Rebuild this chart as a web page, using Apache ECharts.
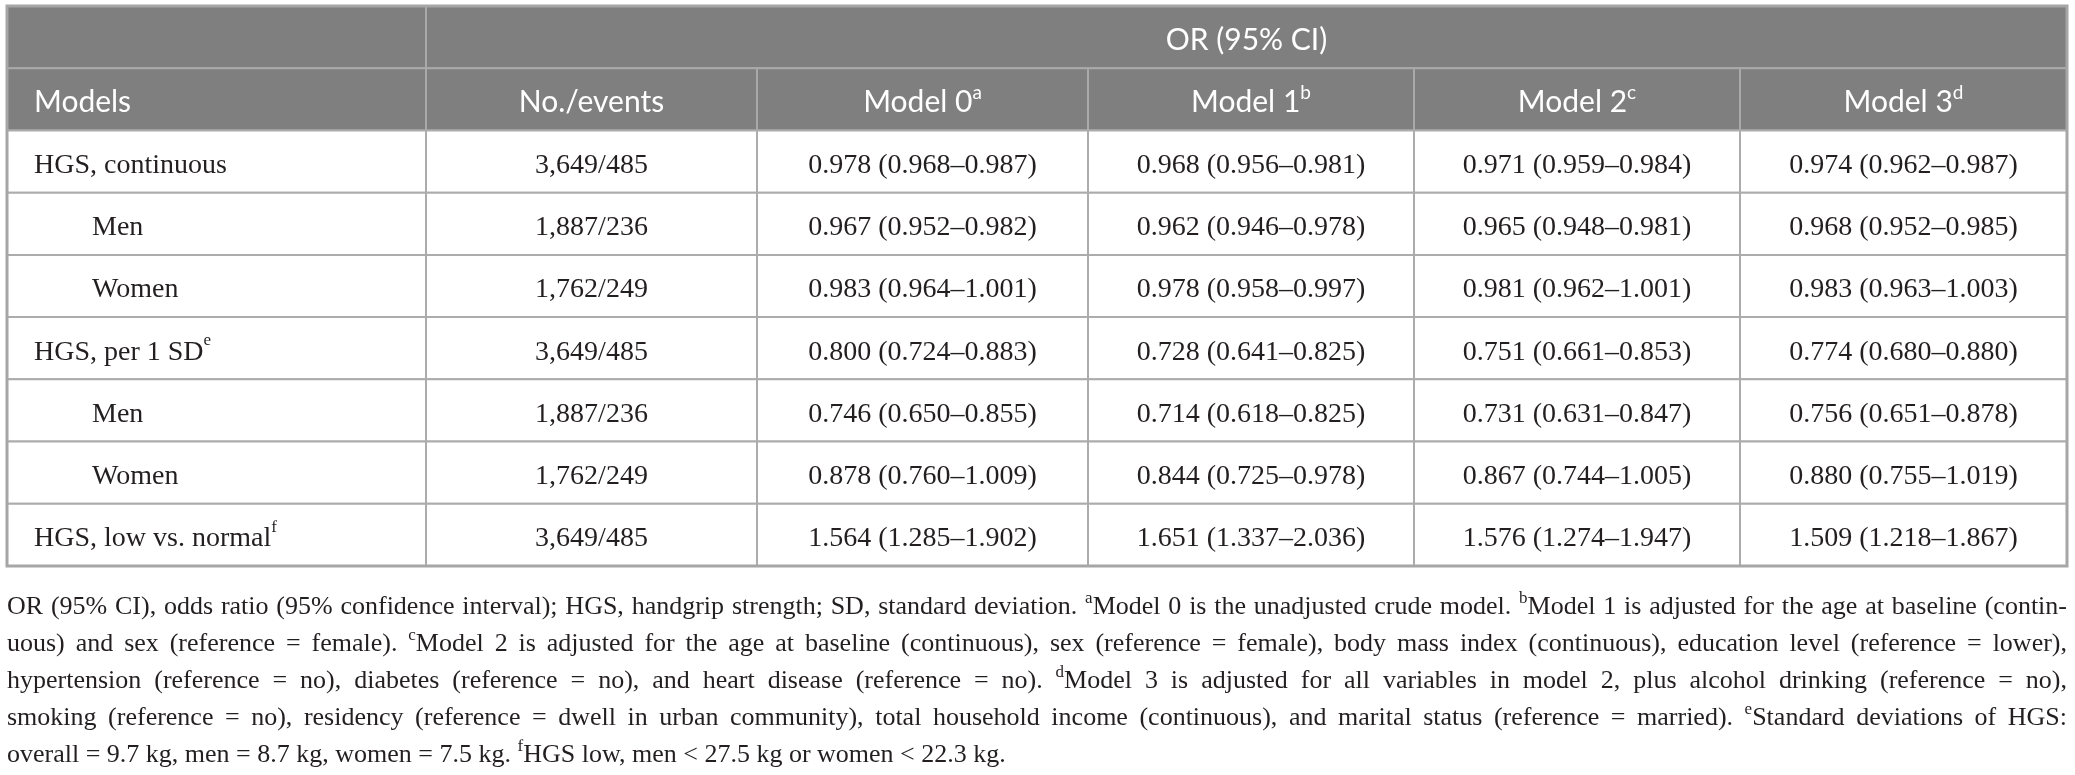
<!DOCTYPE html>
<html><head><meta charset="utf-8">
<script src="https://cdn.jsdelivr.net/npm/echarts@6/dist/echarts.min.js"></script>
<style>html,body{margin:0;padding:0;background:#fff}#c{width:2075px;height:775px}</style>
</head><body><div id="c"></div>
<script>
// ---------- DATA ----------
const groupHeader = 'OR (95% CI)';
const columnTitles = ['Models', 'No./events', 'Model 0', 'Model 1', 'Model 2', 'Model 3'];
const columnSups = ['', '', 'a', 'b', 'c', 'd'];
const rowLabels = ['HGS, continuous', 'Men', 'Women', 'HGS, per 1 SD', 'Men', 'Women', 'HGS, low vs. normal'];
const rowSups = ['', '', '', 'e', '', '', 'f'];
const rowIndented = [false, true, true, false, true, true, false];
const noEvents = ['3,649/485', '1,887/236', '1,762/249', '3,649/485', '1,887/236', '1,762/249', '3,649/485'];
// [OR, lower, upper]
const model0 = [[0.978,0.968,0.987],[0.967,0.952,0.982],[0.983,0.964,1.001],[0.800,0.724,0.883],[0.746,0.650,0.855],[0.878,0.760,1.009],[1.564,1.285,1.902]];
const model1 = [[0.968,0.956,0.981],[0.962,0.946,0.978],[0.978,0.958,0.997],[0.728,0.641,0.825],[0.714,0.618,0.825],[0.844,0.725,0.978],[1.651,1.337,2.036]];
const model2 = [[0.971,0.959,0.984],[0.965,0.948,0.981],[0.981,0.962,1.001],[0.751,0.661,0.853],[0.731,0.631,0.847],[0.867,0.744,1.005],[1.576,1.274,1.947]];
const model3 = [[0.974,0.962,0.987],[0.968,0.952,0.985],[0.983,0.963,1.003],[0.774,0.680,0.880],[0.756,0.651,0.878],[0.880,0.755,1.019],[1.509,1.218,1.867]];
const footnoteLines = [
  'OR (95% CI), odds ratio (95% confidence interval); HGS, handgrip strength; SD, standard deviation. ^aModel 0 is the unadjusted crude model. ^bModel 1 is adjusted for the age at baseline (contin-',
  'uous) and sex (reference = female). ^cModel 2 is adjusted for the age at baseline (continuous), sex (reference = female), body mass index (continuous), education level (reference = lower),',
  'hypertension (reference = no), diabetes (reference = no), and heart disease (reference = no). ^dModel 3 is adjusted for all variables in model 2, plus alcohol drinking (reference = no),',
  'smoking (reference = no), residency (reference = dwell in urban community), total household income (continuous), and marital status (reference = married). ^eStandard deviations of HGS:',
  'overall = 9.7 kg, men = 8.7 kg, women = 7.5 kg. ^fHGS low, men < 27.5 kg or women < 22.3 kg.'
];
const footnoteJustified = [true, true, true, true, false];

// ---------- LAYOUT / STYLE ----------
const colWidths = [419, 331, 331, 326, 326, 327];
const SERIF = '"Liberation Serif", "Times New Roman", serif';
const SANS = 'Lato, "Noto Sans", sans-serif';
const HEAD_BG = '#7f7f7f', HEAD_LINE = '#a9a9a9', BODY_LINE = '#acacac';
const TEXT = '#231f20';

const colEdges = [0];
colWidths.forEach(w => colEdges.push(colEdges[colEdges.length - 1] + w));
const totalW = colEdges[colEdges.length - 1];

const fmtCI = t => t[0].toFixed(3) + ' (' + t[1].toFixed(3) + '–' + t[2].toFixed(3) + ')';
const models = [model0, model1, model2, model3];

// Build cells: value = [x0, x1, r0, r1]
const cells = [];
cells.push({ value: [colEdges[0], colEdges[1], 0, 1], text: '', head: true });
cells.push({ value: [colEdges[1], colEdges[6], 0, 1], text: groupHeader, head: true });
columnTitles.forEach((t, i) => {
  cells.push({ value: [colEdges[i], colEdges[i + 1], 1, 2], text: t, sup: columnSups[i], head: true, left: i === 0 });
});
rowLabels.forEach((lab, r) => {
  const rr = r + 2;
  cells.push({ value: [colEdges[0], colEdges[1], rr, rr + 1], text: lab, sup: rowSups[r], left: true, indent: rowIndented[r] });
  cells.push({ value: [colEdges[1], colEdges[2], rr, rr + 1], text: noEvents[r] });
  models.forEach((m, k) => {
    cells.push({ value: [colEdges[k + 2], colEdges[k + 3], rr, rr + 1], text: fmtCI(m[r]) });
  });
});

function renderCell(params, api) {
  const c = cells[params.dataIndex];
  const p0 = api.coord([api.value(0), api.value(2)]);
  const p1 = api.coord([api.value(1), api.value(3)]);
  const x = p0[0], y = p0[1], w = p1[0] - p0[0], h = p1[1] - p0[1];
  const fs = c.head ? 30 : 28;
  const fam = c.head ? SANS : SERIF;
  const col = c.head ? '#ffffff' : TEXT;
  let txt = '{n|' + c.text + '}';
  if (c.sup) txt += '{s|' + c.sup + '}';
  let tx = x + w / 2, align = 'center';
  if (c.left) { tx = x + 27 + (c.indent ? 58 : 0); align = 'left'; }
  return {
    type: 'group',
    children: [
      { type: 'rect', shape: { x: x, y: y, width: w, height: h },
        style: { fill: c.head ? HEAD_BG : '#ffffff', stroke: c.head ? HEAD_LINE : BODY_LINE, lineWidth: 2 } },
      { type: 'text', z2: 10,
        style: { text: txt, x: tx, y: y + h / 2 + 1, align: align, verticalAlign: 'middle',
          rich: {
            n: { fontSize: fs, fontFamily: fam, fill: col, lineHeight: 34, verticalAlign: 'bottom' },
            s: { fontSize: Math.round(fs * 0.62), fontFamily: fam, fill: col, lineHeight: 24, verticalAlign: 'top' }
          } } }
    ]
  };
}

// ---------- FOOTNOTE (justified) ----------
const FN_FS = 26, FN_SUP = 17;
const FN_LEFT = 7, FN_RIGHT = 2067;
const FN_Y0 = 605, FN_STEP = 37;
const cv = document.createElement('canvas').getContext('2d');
function measure(t, fs) { cv.font = fs + 'px ' + SERIF; return cv.measureText(t).width; }
function parts(word) {
  const out = []; const re = /\^([a-z])/g; let last = 0, m;
  while ((m = re.exec(word))) {
    if (m.index > last) out.push({ t: word.slice(last, m.index), s: false });
    out.push({ t: m[1], s: true }); last = re.lastIndex;
  }
  if (last < word.length) out.push({ t: word.slice(last), s: false });
  return out;
}
const fnRich = {
  n: { fontSize: FN_FS, fontFamily: SERIF, fill: TEXT, lineHeight: 30, verticalAlign: 'bottom' },
  s: { fontSize: FN_SUP, fontFamily: SERIF, fill: TEXT, lineHeight: 20, verticalAlign: 'top' }
};
const graphics = [];
footnoteLines.forEach((line, li) => {
  const words = line.split(' ').map(w => {
    const ps = parts(w);
    const width = ps.reduce((a, p) => a + measure(p.t, p.s ? FN_SUP : FN_FS), 0);
    const rich = ps.map(p => '{' + (p.s ? 's' : 'n') + '|' + p.t + '}').join('');
    return { width, rich };
  });
  const space = measure(' ', FN_FS);
  const sumW = words.reduce((a, w) => a + w.width, 0);
  const avail = FN_RIGHT - FN_LEFT;
  let gap = space, scale = 1;
  if (footnoteJustified[li]) {
    const natural = sumW + space * (words.length - 1);
    if (natural > avail) { scale = avail / natural; }
    else { gap = (avail - sumW) / (words.length - 1); }
  }
  const children = [];
  let cx = 0;
  words.forEach(w => {
    children.push({ type: 'text', x: cx, y: 0,
      style: { text: w.rich, rich: fnRich, align: 'left', verticalAlign: 'middle' } });
    cx += w.width + gap;
  });
  graphics.push({ type: 'group', x: FN_LEFT, y: FN_Y0 + li * FN_STEP, scaleX: scale, children });
});

const chart = echarts.init(document.getElementById('c'), null, { renderer: 'canvas' });
chart.setOption({
  animation: false,
  backgroundColor: '#ffffff',
  grid: { left: 7, top: 6, width: totalW, height: 560, show: true, z: 10,
    borderColor: '#a6a6a6', borderWidth: 3, backgroundColor: 'transparent' },
  xAxis: { type: 'value', min: 0, max: totalW, show: false },
  yAxis: { type: 'value', min: 0, max: 9, inverse: true, show: false },
  series: [{
    type: 'custom',
    renderItem: renderCell,
    encode: { x: [0, 1], y: [2, 3] },
    data: cells.map(c => ({ value: c.value })),
    clip: false
  }],
  graphic: graphics
});
</script></body></html>
